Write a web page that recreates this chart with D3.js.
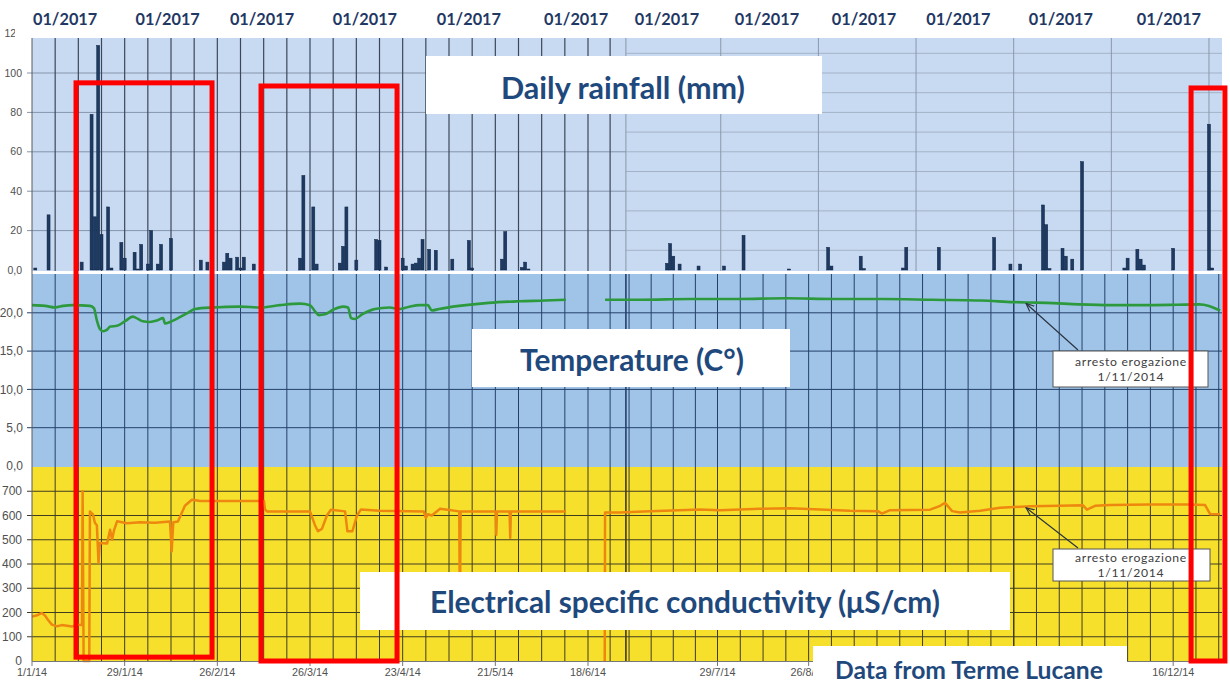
<!DOCTYPE html>
<html>
<head>
<meta charset="utf-8">
<script src="https://cdn.jsdelivr.net/npm/d3@7"></script>
<style>
	body { margin: 0; background: #fff; }
	svg { display: block; }
</style>
</head>
<body>
<div id="chart"></div>
<script>
// ---- data (day = days after 1 Jan 2014) ----
var rainDay = [1, 5, 15, 18, 19, 20, 21, 23, 24, 27,
	28, 31, 32, 33, 35, 36, 38, 39, 42, 51,
	53, 58, 59, 60, 62, 63, 64, 67, 81, 82,
	85, 86, 93, 94, 95, 98, 104, 105, 107, 112,
	113, 115, 116, 117, 118, 120, 122, 127, 132, 133,
	142, 143, 148, 149, 150, 193, 194, 195, 197, 203,
	211, 217, 231, 243, 244, 253, 254, 266, 267, 277,
	294, 299, 302, 309, 310, 311, 315, 316, 318, 321,
	334, 335, 338, 339, 340, 349, 360, 361];
var rainMm = [1, 28, 4, 79, 27, 114, 18, 32, 1, 14,
	6, 9, 0.5, 13, 3, 20, 3, 13, 16, 5,
	4, 4, 8.5, 6, 6.5, 1, 6.5, 3, 6, 48,
	32, 3, 3.5, 12, 32, 5, 15.5, 15, 1.5, 6,
	2, 3, 3.5, 6, 15.5, 10.5, 10, 5.5, 15, 1,
	5.5, 19.5, 1.3, 4, 0.5, 3.4, 13.4, 7, 3, 2,
	2, 17.6, 0.5, 11.5, 2, 7, 0.7, 1, 11.5, 11.5,
	16.5, 3, 3, 33, 23, 0.7, 11, 7, 5.5, 55,
	1, 6, 10.5, 5.5, 2.5, 11, 74, 1];

var tempDay = [0, 4, 7, 9.4, 12.4, 17.5, 18.7, 19.6, 20.5, 21.5,
	22.7, 23.6, 25.7, 28.1, 30.5, 32, 33.5, 35.6, 37.8, 39.6,
	40.2, 41.7, 44.1, 47.1, 49.2, 54.7, 62.8, 68.9, 74.9, 81,
	84, 85.5, 86.7, 88.5, 91, 94, 95.5, 96.4, 97.6, 99.7,
	103.6, 108, 111, 114, 117, 119.6, 120.8, 123, 129, 138,
	147, 155, 161.3, 167, 173.4, 185, 200, 215, 230, 245,
	260, 275, 290, 300, 304, 310, 320, 330, 340, 350,
	357, 360, 363.4];
var tempC = [21.0, 20.9, 20.7, 20.9, 21.0, 20.9, 20.6, 19.0, 17.9, 17.6,
	17.8, 18.2, 18.3, 18.9, 19.5, 19.2, 18.9, 18.8, 19.0, 19.3,
	18.6, 18.8, 19.3, 20.0, 20.5, 20.7, 20.8, 20.7, 21.0, 21.2,
	21.0, 20.2, 19.7, 19.8, 20.4, 20.8, 20.7, 19.3, 19.2, 19.8,
	20.5, 20.7, 20.5, 20.8, 21.0, 21.0, 20.3, 20.5, 20.9, 21.3,
	21.5, 21.6, 21.7, null, 21.7, 21.7, 21.8, 21.8, 21.9, 21.8,
	21.8, 21.7, 21.6, 21.4, 21.35, 21.3, 21.1, 21.0, 21.0, 21.05,
	21.1, 20.9, 20.3];

var condDay = [0, 1.8, 3, 3.9, 4.8, 6, 7.6, 9, 10.6, 12.1,
	13.6, 15.1, 15.3, 15.6, 17.3, 17.5, 18.4, 19, 19.6, 20.1,
	20.5, 22.7, 23.6, 24.2, 24.8, 25.7, 28.7, 32.6, 37.2, 41.7,
	42.2, 42.7, 44.1, 46.2, 48.3, 50.8, 70.1, 70.4, 71, 84,
	85.5, 86.4, 87.6, 89.1, 90.3, 94.6, 95.3, 96.8, 98.2, 99.4,
	105, 118.4, 119, 119.6, 120.8, 123.3, 129.1, 129.3, 129.5, 140.1,
	140.3, 140.5, 144.3, 144.5, 144.7, 161.3, 167, 173.3, 173.4, 178,
	187.6, 197, 203.4, 209.8, 222, 231.3, 240.5, 249.7, 258.3, 259.5,
	262, 274.3, 277.4, 278.9, 281.1, 283.5, 289.7, 295.8, 305, 314.2,
	321.3, 322.5, 325, 329.6, 341.9, 354.2, 358.8, 360.4, 363.4];
var condUs = [183, 190, 198, 188, 170, 150, 143, 148, 145, 142,
	150, 148, 700, 0, 0, 617, 605, 570, 560, 405,
	487, 485, 541, 500, 540, 576, 568, 572, 570, 575,
	452, 572, 575, 640, 665, 660, 660, 625, 617, 617,
	560, 535, 545, 600, 624, 617, 535, 535, 600, 625,
	620, 617, 590, 605, 600, 628, 617, 150, 617, 617,
	521, 617, 617, 508, 617, 617, null, 0, 612, 612,
	618, 622, 625, 622, 628, 630, 625, 620, 618, 608,
	622, 624, 640, 652, 618, 612, 620, 632, 638, 640,
	642, 624, 640, 643, 645, 645, 643, 605, 605];

var rainTicks = [0, 20, 40, 60, 80, 100, 120];
var tempTicks = [0, 5, 10, 15, 20];
var condTicks = [0, 100, 200, 300, 400, 500, 600, 700];
// every 4 weeks; the ones under the source box are not shown
var tickDates = ['1/1/14', '29/1/14', '26/2/14', '26/3/14', '23/4/14', '21/5/14', '18/6/14',
	'29/7/14', '26/8/14', '23/9/14', '21/10/14', '18/11/14', '16/12/14'];
var dateLabels = ['1/1/14', '29/1/14', '26/2/14', '26/3/14', '23/4/14', '21/5/14', '18/6/14',
	'29/7/14', '26/8/14', '16/12/14'];
var headerLabels = ['01/2017', '01/2017', '01/2017', '01/2017', '01/2017', '01/2017',
	'01/2017', '01/2017', '01/2017', '01/2017', '01/2017', '01/2017'];
var headerDay = [10, 41, 69.5, 100.6, 132, 164.4, 193, 224.2, 254, 283, 314.5, 347.7];
var annotDay = 303.5;

// ---- layout ----
var W = 1230, H = 684;
var X0 = 32, X1 = 1222;
var seamDay = 180;	// two logger records glued together here

var svg = d3.select('#chart').append('svg')
	.attr('width', W).attr('height', H)
	.style('font-family', 'Lato, "Open Sans", sans-serif');

// the two records have slightly different time scales -> polylinear
var x = d3.scaleLinear().domain([0, 168, 209, 364]).range([X0, 588, 717.5, X1]);
var yR = d3.scaleLinear().domain([0, 120]).range([270, 33.6]);
var yT = d3.scaleLinear().domain([0, 25]).range([466, 274.5]);
var yC = d3.scaleLinear().domain([0, 800]).range([661, 467]);

var base = new Date(2014, 0, 1);
var parseD = d3.timeParse('%d/%m/%y');
function dayOf(s) { return d3.timeDay.count(base, parseD(s)); }

var weekDays = d3.range(0, seamDay, 7).concat(d3.range(209 - 28, 365, 7));
var monthDays = d3.range(seamDay, 365, 30);

var defs = svg.append('defs');

// backgrounds
svg.append('rect').attr('x', X0).attr('y', yR(120)).attr('width', X1 - X0).attr('height', 271 - yR(120)).attr('fill', '#c8daf2');
svg.append('rect').attr('x', X0).attr('y', 274).attr('width', X1 - X0).attr('height', 467 - 274).attr('fill', '#a0c4e8');
svg.append('rect').attr('x', X0).attr('y', 467).attr('width', X1 - X0).attr('height', 661 - 467).attr('fill', '#f6e02c');

// rainfall grid: weekly + every 20 on the left part, monthly + every 10 on the right part
var gR = svg.append('g');
gR.selectAll('.hl').data([20, 40, 60, 80, 100]).enter().append('line')
	.attr('x1', 27).attr('x2', x(seamDay)).attr('y1', d => yR(d)).attr('y2', d => yR(d))
	.attr('stroke', '#8494aa').attr('stroke-width', 1);
gR.selectAll('.hr').data(d3.range(10, 120, 10)).enter().append('line')
	.attr('x1', x(seamDay)).attr('x2', X1).attr('y1', d => yR(d)).attr('y2', d => yR(d))
	.attr('stroke', '#a3b2c6').attr('stroke-width', 1);
gR.selectAll('.vl').data(weekDays.filter(d => d < seamDay && d > 0)).enter().append('line')
	.attr('x1', d => x(d)).attr('x2', d => x(d)).attr('y1', yR(120)).attr('y2', 271)
	.attr('stroke', '#3c4759').attr('stroke-width', 1.2);
gR.selectAll('.vr').data(monthDays).enter().append('line')
	.attr('x1', d => x(d)).attr('x2', d => x(d)).attr('y1', yR(120)).attr('y2', 271)
	.attr('stroke', '#8a97a9').attr('stroke-width', 1);

// temperature + conductivity grid
function panelGrid(y, ticks, top, bottom, col) {
	var g = svg.append('g');
	g.selectAll('line.h').data(ticks).enter().append('line')
		.attr('x1', 27).attr('x2', X1).attr('y1', d => y(d)).attr('y2', d => y(d))
		.attr('stroke', col).attr('stroke-width', 1);
	g.selectAll('line.v').data(weekDays.filter(d => d > 0)).enter().append('line')
		.attr('x1', d => x(d)).attr('x2', d => x(d)).attr('y1', top).attr('y2', bottom)
		.attr('stroke', col).attr('stroke-width', 1);
	g.append('line').attr('x1', x(seamDay)).attr('x2', x(seamDay)).attr('y1', top).attr('y2', bottom)
		.attr('stroke', col).attr('stroke-width', 1.6);
	g.append('line').attr('x1', x(300)).attr('x2', x(300)).attr('y1', top).attr('y2', bottom)
		.attr('stroke', col).attr('stroke-width', 1.4);
}
panelGrid(yT, [5, 10, 15, 20], 274, 467, '#24406a');
panelGrid(yC, [100, 200, 300, 400, 500, 600, 700], 467, 661, '#403c20');

// white base line of rainfall panel
svg.append('rect').attr('x', X0).attr('y', 271).attr('width', X1 - X0).attr('height', 3).attr('fill', '#fff');

// rainfall bars
var rain = rainDay.map((d, i) => ({ day: d, v: rainMm[i] }));
svg.append('g').selectAll('rect').data(rain).enter().append('rect')
	.attr('x', d => x(d.day) - 1.5)
	.attr('y', d => yR(d.v))
	.attr('width', 3)
	.attr('height', d => yR(0) - yR(d.v))
	.attr('fill', '#1d3a63')
	.attr('stroke', '#0f2241').attr('stroke-width', 0.5);

// series lines
var temp = tempDay.map((d, i) => ({ day: d, v: tempC[i] }));
var cond = condDay.map((d, i) => ({ day: d, v: condUs[i] }));

svg.append('path').datum(temp)
	.attr('d', d3.line().defined(d => d.v != null).x(d => x(d.day)).y(d => yT(d.v)).curve(d3.curveMonotoneX))
	.attr('fill', 'none').attr('stroke', '#2c9a3c').attr('stroke-width', 2.6);

svg.append('path').datum(cond)
	.attr('d', d3.line().defined(d => d.v != null).x(d => x(d.day)).y(d => yC(d.v)))
	.attr('fill', 'none').attr('stroke', '#ee870f').attr('stroke-width', 2.5)
	.attr('stroke-linejoin', 'round');

// left axis line
svg.append('line').attr('x1', X0).attr('x2', X0).attr('y1', yR(120)).attr('y2', 661)
	.attr('stroke', '#5a5a5a').attr('stroke-width', 1);

// y tick labels
var comma = v => d3.format('.1f')(v).replace('.', ',');
function yLabels(y, ticks, fmt, xEnd, fs) {
	svg.append('g').selectAll('text').data(ticks).enter().append('text')
		.attr('x', xEnd).attr('y', d => y(d)).attr('dy', '0.35em')
		.attr('text-anchor', 'end')
		.style('font-family', '"Liberation Sans", Arial, sans-serif')
		.attr('font-size', fs).attr('fill', '#505050')
		.text(fmt);
}
yLabels(yR, rainTicks, d => d === 0 ? '0,0' : d, 22, 10.5);
yLabels(yT, tempTicks, comma, 23, 12);
yLabels(yC, condTicks, d => d, 22, 12);

// bottom axis
svg.append('line').attr('x1', X0).attr('x2', X1).attr('y1', 661.5).attr('y2', 661.5)
	.attr('stroke', '#777').attr('stroke-width', 1);
// labels are hidden where the source box sits
var lblClip = defs.append('clipPath').attr('id', 'lblclip');
lblClip.append('rect').attr('x', 0).attr('y', 640).attr('width', 813).attr('height', 44);
lblClip.append('rect').attr('x', 1127).attr('y', 640).attr('width', W - 1127).attr('height', 44);
var gx = svg.append('g');
gx.selectAll('line').data(tickDates).enter().append('line')
	.attr('x1', d => x(dayOf(d))).attr('x2', d => x(dayOf(d)))
	.attr('y1', 661).attr('y2', 666).attr('stroke', '#777');
gx.append('g').attr('clip-path', 'url(#lblclip)')
	.selectAll('text').data(dateLabels).enter().append('text')
	.attr('x', d => x(dayOf(d))).attr('y', 676)
	.attr('text-anchor', 'middle')
	.style('font-family', '"Liberation Sans", Arial, sans-serif')
	.attr('font-size', 10.8).attr('fill', '#505050')
	.text(d => d);

// header band
svg.append('rect').attr('x', 15).attr('y', 0).attr('width', W - 15).attr('height', 38).attr('fill', '#fff');
svg.append('g').selectAll('text').data(headerLabels).enter().append('text')
	.attr('x', (d, i) => x(headerDay[i])).attr('y', 24.5)
	.attr('text-anchor', 'middle')
	.attr('font-size', 16.3).attr('font-weight', 'bold').attr('fill', '#1f3864')
	.text(d => d);

function fitText(t, targetW) {
	var fs = parseFloat(t.attr('font-size'));
	var w = t.node().getComputedTextLength();
	if (w > 0) t.attr('font-size', fs * targetW / w);
}

// annotations "arresto erogazione"
defs.append('marker')
	.attr('id', 'arr').attr('viewBox', '0 -5 10 10')
	.attr('refX', 9).attr('refY', 0)
	.attr('markerWidth', 9).attr('markerHeight', 9)
	.attr('markerUnits', 'userSpaceOnUse')
	.attr('orient', 'auto')
	.append('path').attr('d', 'M0,-4L9,0L0,4').attr('fill', 'none').attr('stroke', '#2b3440').attr('stroke-width', 1.3);

var notes = [
	{ y: yT, v: 21.35, box: [1053, 351, 1208, 387], from: [1078, 350], ty: [361.5, 377] },
	{ y: yC, v: 636, box: [1053, 549, 1210, 581], from: [1078, 548], ty: [558, 573] }
];
notes.forEach(n => {
	svg.append('line')
		.attr('x1', n.from[0]).attr('y1', n.from[1])
		.attr('x2', x(annotDay) + 1).attr('y2', n.y(n.v) + 1)
		.attr('stroke', '#2b3440').attr('stroke-width', 1.2)
		.attr('marker-end', 'url(#arr)');
	svg.append('rect').attr('x', n.box[0]).attr('y', n.box[1])
		.attr('width', n.box[2] - n.box[0]).attr('height', n.box[3] - n.box[1])
		.attr('fill', '#fff').attr('stroke', '#555').attr('stroke-width', 1);
	svg.append('text').attr('x', 1131).attr('y', n.ty[0]).attr('dy', '0.35em')
		.attr('text-anchor', 'middle').attr('font-size', 12.2).attr('letter-spacing', 0.7)
		.attr('fill', '#404040')
		.text('arresto erogazione');
	svg.append('text').attr('x', 1131).attr('y', n.ty[1]).attr('dy', '0.35em')
		.attr('text-anchor', 'middle').attr('font-size', 12.2).attr('letter-spacing', 0.7)
		.attr('fill', '#404040')
		.text('1/11/2014');
});

// title boxes
var titles = [
	{ text: 'Daily rainfall (mm)', box: [426, 56, 822, 114], cx: 623, cy: 88, w: 244 },
	{ text: 'Temperature (C°)', box: [472, 329, 790, 387], cx: 632, cy: 360, w: 224 },
	{ text: 'Electrical specific conductivity (\u03bcS/cm)', box: [360, 572, 1010, 630], cx: 685, cy: 602, w: 510 },
	{ text: 'Data from Terme Lucane', box: [813, 646, 1127, 684], cx: 969, cy: 670, w: 268 }
];
titles.forEach(t => {
	svg.append('rect').attr('x', t.box[0]).attr('y', t.box[1])
		.attr('width', t.box[2] - t.box[0]).attr('height', t.box[3] - t.box[1])
		.attr('fill', '#fff');
	var el = svg.append('text').attr('x', t.cx).attr('y', t.cy).attr('dy', '0.36em')
		.attr('text-anchor', 'middle').attr('font-size', 24).attr('font-weight', 'bold')
		.attr('fill', '#1f497d').text(t.text);
	fitText(el, t.w);
});

// red highlight boxes: [start day, end day, top rainfall mm, bottom conductivity]
var highlights = [[13.3, 54.4, 95, 16], [69.2, 110.3, 93.4, 0], [354.5, 364.9, 92.4, 0]];
svg.append('g').selectAll('rect').data(highlights).enter().append('rect')
	.attr('x', d => x(d[0])).attr('y', d => yR(d[2]))
	.attr('width', d => x(d[1]) - x(d[0]))
	.attr('height', d => yC(d[3]) - yR(d[2]))
	.attr('fill', 'none').attr('stroke', '#ff0000').attr('stroke-width', 5);
</script>
</body>
</html>
